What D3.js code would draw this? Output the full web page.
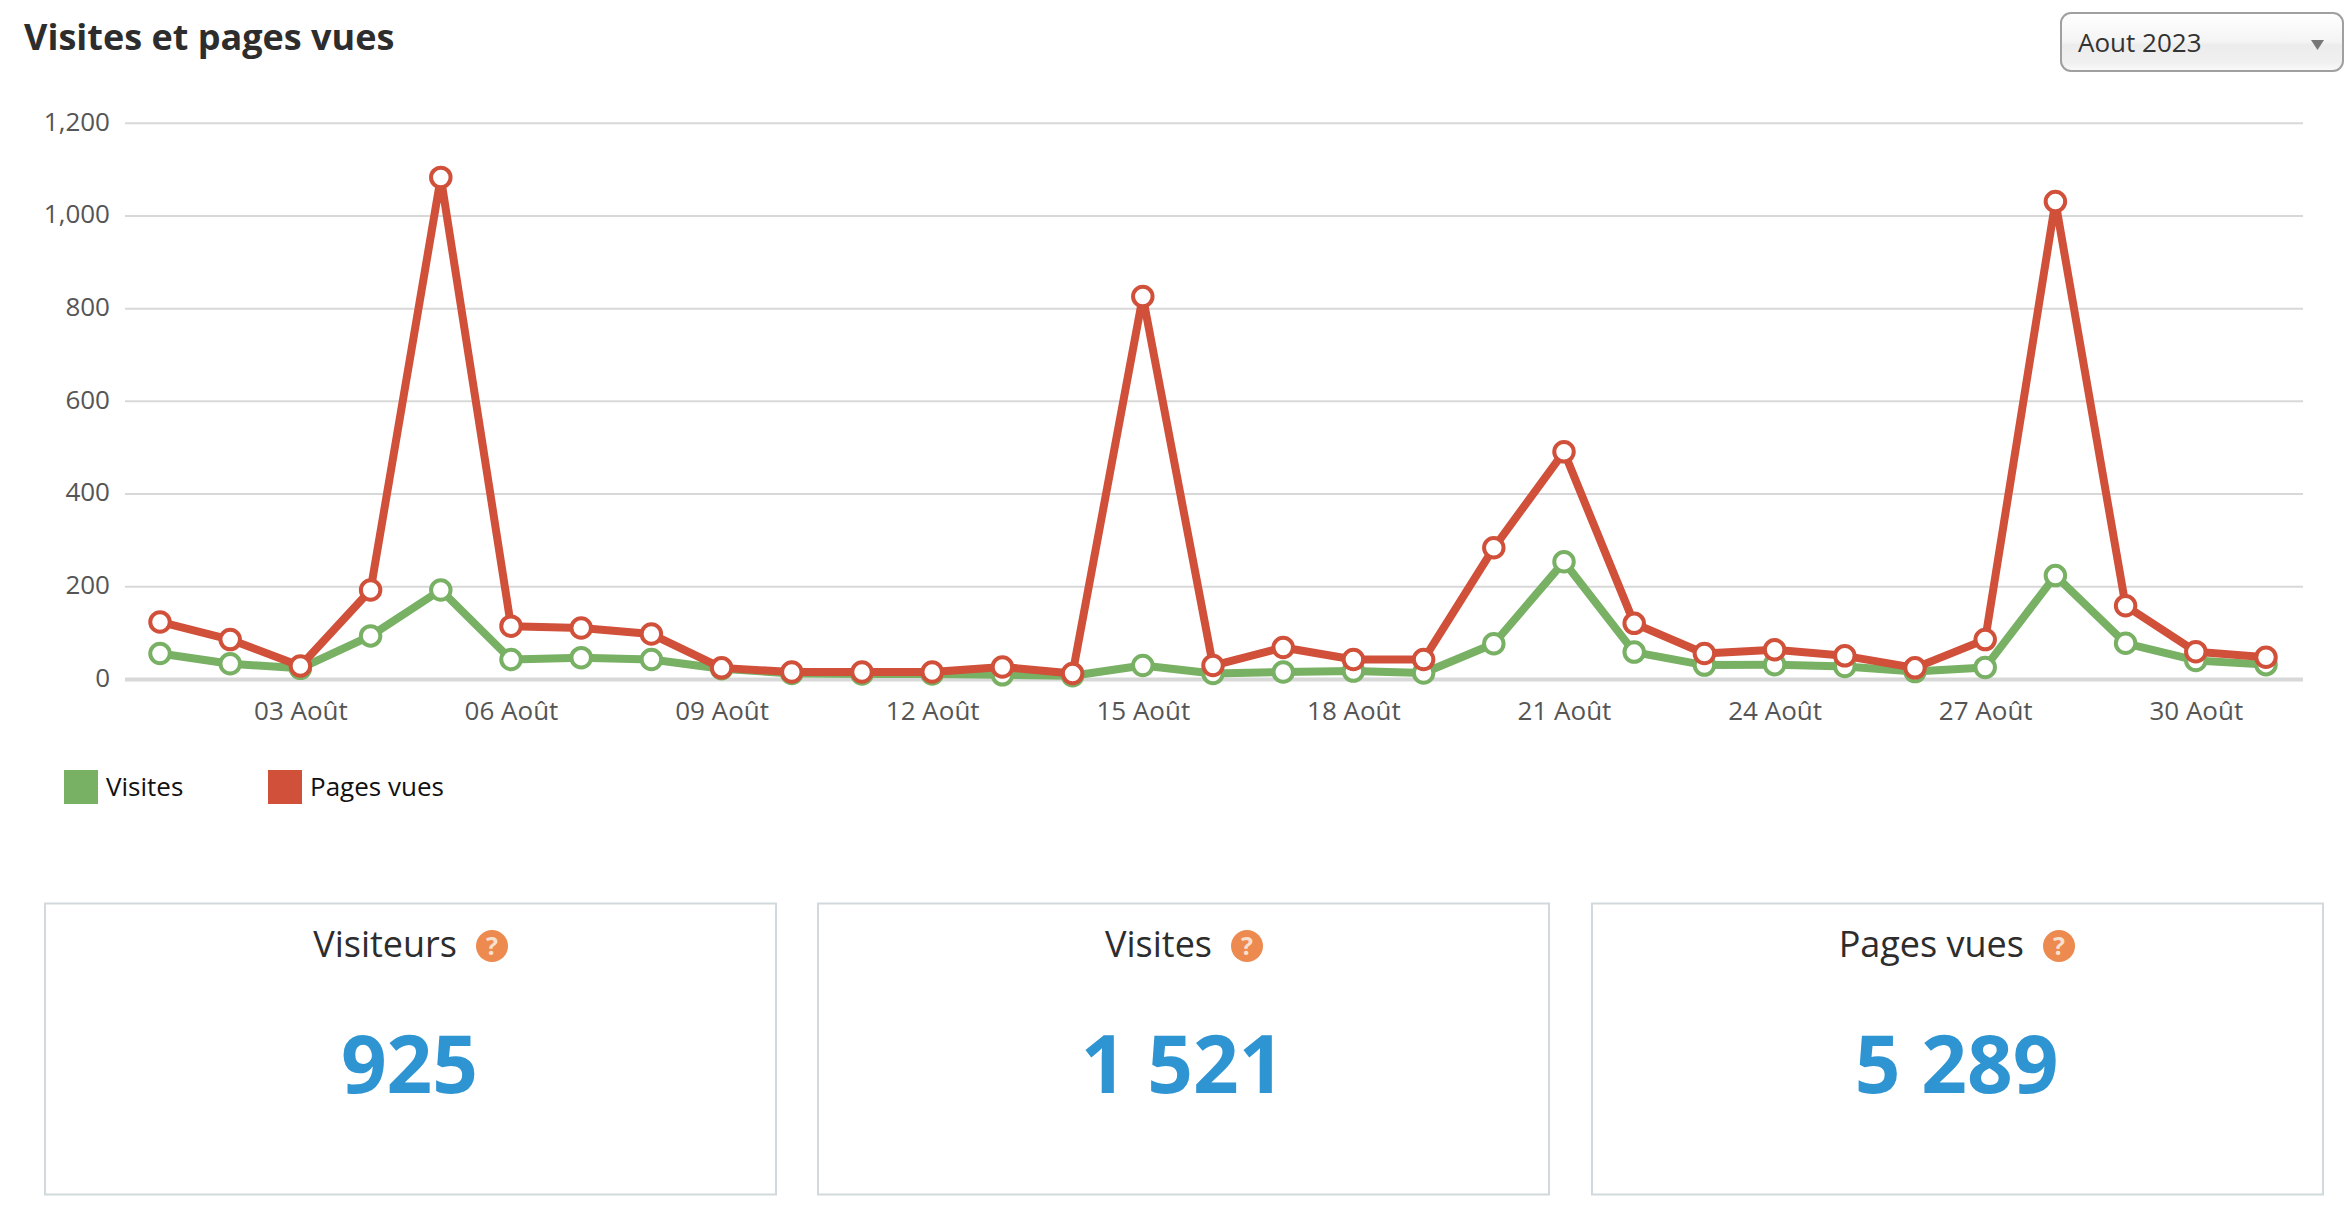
<!DOCTYPE html>
<html>
<head>
<meta charset="utf-8">
<script src="https://cdn.jsdelivr.net/npm/d3@7/dist/d3.min.js"></script>
<style>
html,body{margin:0;padding:0;background:#fff;}
svg{display:block;font-family:"Open Sans",sans-serif;}
</style>
</head>
<body>
<svg id="c" width="2348" height="1210"></svg>
<script>
const days = d3.range(1, 32);
const visites = [55,33,23,93,192,42,46,42,22,12,11,11,9,7,29,12,15,17,13,76,253,58,30,31,27,16,25,223,77,40,31];
const pagesVues = [123,85,28,192,1082,114,110,97,24,15,15,15,26,12,825,29,68,42,42,283,490,120,55,63,50,24,85,1030,158,59,47];
const yTicks = [0,200,400,600,800,1000,1200];
const xTickDays = [3,6,9,12,15,18,21,24,27,30];
const seriesNames = ["Visites","Pages vues"];
const seriesColors = ["#78b064","#d0503a"];
const cardTitles = ["Visiteurs","Visites","Pages vues"];
const cardValues = ["925","1 521","5 289"];

const svg = d3.select("#c");
const x = d3.scalePoint().domain(days).range([160,2266]);
const y = d3.scaleLinear().domain([0,1200]).range([679,122.7]);

// title
svg.append("text").attr("x",24).attr("y",50).attr("font-size",36).attr("font-weight",700)
  .attr("fill","#2d2d2d").text("Visites et pages vues");

// select
const defs = svg.append("defs");
const g = defs.append("linearGradient").attr("id","sel").attr("x1",0).attr("x2",0).attr("y1",0).attr("y2",1);
[[0,"#ffffff"],[0.5,"#f4f4f4"],[0.55,"#ececec"],[0.85,"#f0f0f0"],[1,"#fafafa"]].forEach(s=>g.append("stop").attr("offset",s[0]).attr("stop-color",s[1]));
svg.append("rect").attr("x",2061).attr("y",13).attr("width",282).attr("height",58).attr("rx",10)
  .attr("fill","url(#sel)").attr("stroke","#a0a0a0").attr("stroke-width",2);
svg.append("text").attr("x",2078).attr("y",52).attr("font-size",26).attr("fill","#333").text("Aout 2023");
svg.append("path").attr("d","M2311 40 L2324 40 L2317.5 50 Z").attr("fill","#777");

// y axis
const yAxis = d3.axisLeft(y).tickValues(yTicks).tickFormat(d3.format(",")).tickSize(-2178).tickPadding(15);
const ya = svg.append("g").attr("transform","translate(125,0)").call(yAxis);
ya.select(".domain").remove();
ya.selectAll("line").attr("stroke","#d8d8d8").attr("stroke-width",d=>d===0?4:2);
ya.selectAll("text").attr("font-size",26).attr("fill","#555").attr("font-family","'Open Sans',sans-serif").attr("y",-1);

// x axis
const xAxis = d3.axisBottom(x).tickValues(xTickDays).tickSize(0).tickPadding(23)
  .tickFormat(d=>String(d).padStart(2,"0")+" Août");
const xa = svg.append("g").attr("transform","translate(0,679)").call(xAxis);
xa.select(".domain").remove();
xa.selectAll("text").attr("font-size",26).attr("fill","#555").attr("font-family","'Open Sans',sans-serif");

// series
const line = d3.line().x((d,i)=>x(days[i])).y(d=>y(d));
[visites,pagesVues].forEach((vals,k)=>{
  const s = svg.append("g");
  s.append("path").attr("d",line(vals)).attr("fill","none").attr("stroke",seriesColors[k])
    .attr("stroke-width",8).attr("stroke-linejoin","round");
  s.selectAll("circle").data(vals).join("circle")
    .attr("cx",(d,i)=>x(days[i])).attr("cy",d=>y(d)).attr("r",9.75)
    .attr("fill","#fff").attr("stroke",seriesColors[k]).attr("stroke-width",4);
});

// legend
const legendX = [64,268];
seriesNames.forEach((n,i)=>{
  svg.append("rect").attr("x",legendX[i]).attr("y",770).attr("width",34).attr("height",34).attr("fill",seriesColors[i]);
  svg.append("text").attr("x",legendX[i]+42).attr("y",796).attr("font-size",26).attr("fill","#111").text(n);
});

// cards
const cardX = [45,818,1592];
const iconX = [492,1247,2059];
cardTitles.forEach((t,i)=>{
  svg.append("rect").attr("x",cardX[i]).attr("y",903.5).attr("width",731).attr("height",291)
    .attr("fill","#fff").attr("stroke","#d2d9dc").attr("stroke-width",2);
  svg.append("text").attr("x",iconX[i]-35).attr("y",957).attr("text-anchor","end")
    .attr("font-size",36).attr("fill","#2d2d2d").text(t);
  svg.append("circle").attr("cx",iconX[i]).attr("cy",946).attr("r",16).attr("fill","#ec8a50");
  svg.append("text").attr("x",iconX[i]).attr("y",955).attr("text-anchor","middle")
    .attr("font-size",25).attr("font-weight",700).attr("fill","#f8e0d0").text("?");
  svg.append("text").attr("x",cardX[i]+364.5).attr("y",1093).attr("text-anchor","middle")
    .attr("font-size",80).attr("font-weight",700).attr("fill","#2e94d2").text(cardValues[i]);
});
</script>
</body>
</html>
